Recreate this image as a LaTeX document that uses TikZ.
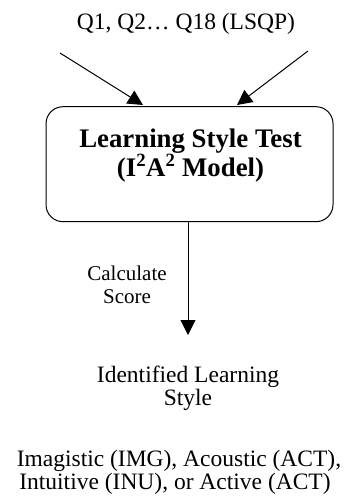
\documentclass[tikz,border=0pt]{standalone}
\usepackage{fontspec}
\setmainfont{Liberation Serif}
\usetikzlibrary{arrows.meta}
\tikzset{
  plain/.style={font=\fontsize{23.5}{23}\selectfont, align=center, inner sep=0pt, anchor=base},
  small/.style={font=\fontsize{21}{23}\selectfont, align=center, inner sep=0pt, anchor=base},
  heading/.style={plain, font=\fontsize{26.8}{28}\selectfont\bfseries},
  testbox/.style={draw, line width=1pt, rounded corners=17pt, minimum width=287pt, minimum height=115pt, inner sep=0pt},
  flow/.style={line width=1pt, -{Triangle[length=15pt,width=15pt]}},
}
\begin{document}
\begin{tikzpicture}[x=1pt, y=-1pt]
  \useasboundingbox (0,0) rectangle (346,499);
  % questionnaire items feeding the test
  \node[plain] (q) at (186,29) {Q1, Q2… Q18 (LSQP)};
  \coordinate (inL) at (60,53);
  \coordinate (inR) at (308,51);
  % the test itself
  \node[testbox] (test) at (189.5,164.2) {};
  \node[heading] (t1) at (190.5,147) {Learning Style Test};
  \node[heading] (t2) at (190.5,176) {(I\textsuperscript{2}A\textsuperscript{2} Model)};
  \draw[flow] (inL) -- (143,105);
  \draw[flow] (inR) -- (237,105);
  % scoring step
  \coordinate (out) at (188,335);
  \draw[flow] (test.south -| out) -- (out);
  \node[small] (c1) at (127,280) {Calculate};
  \node[small] (c2) at (127,303) {Score};
  % result
  \node[plain] (r1) at (188,382) {Identified Learning};
  \node[plain] (r2) at (188,405) {Style};
  \node[plain] (s1) at (179,466) {Imagistic (IMG), Acoustic (ACT),};
  \node[plain] (s2) at (175,489) {Intuitive (INU), or Active (ACT)};
\end{tikzpicture}
\end{document}
